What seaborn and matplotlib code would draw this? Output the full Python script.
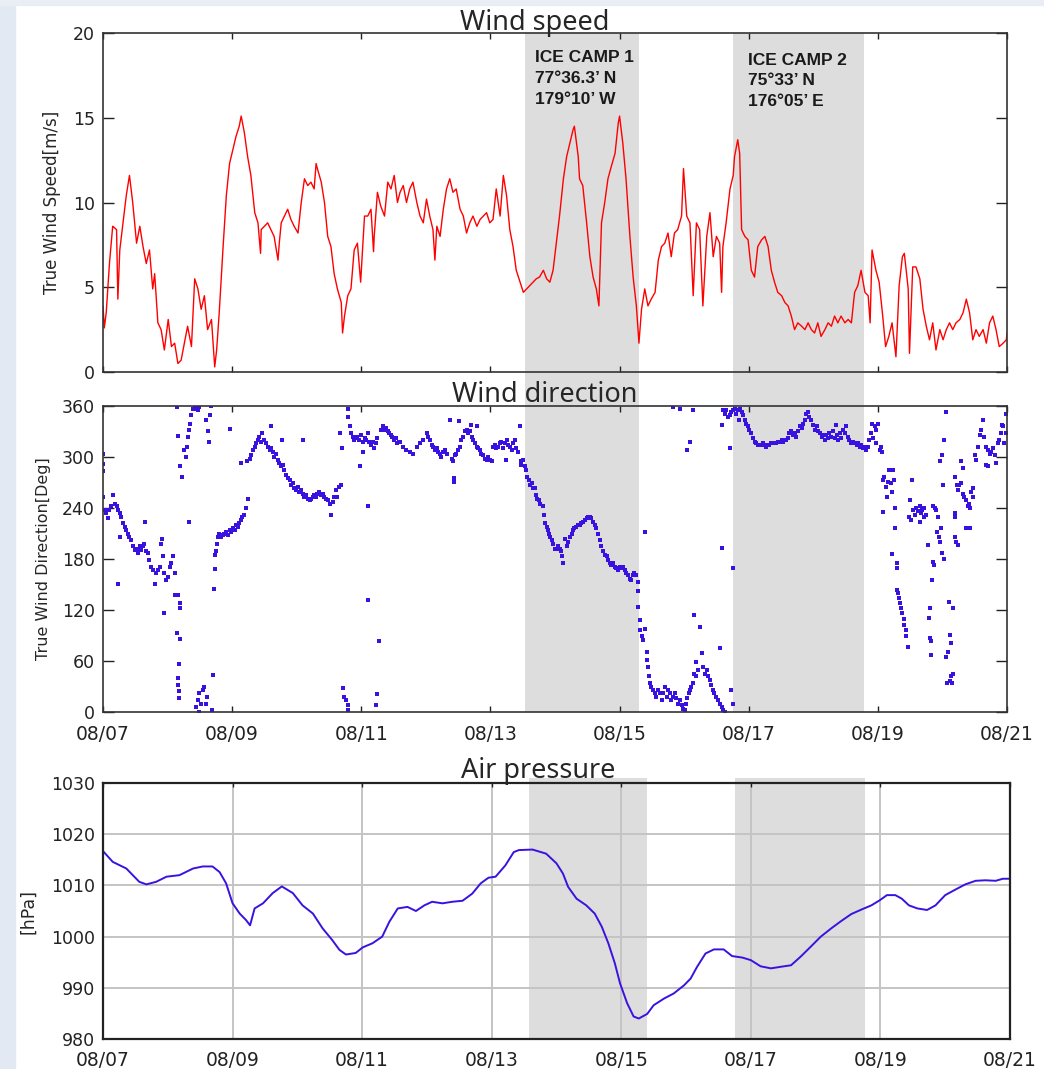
import pandas as pd
import matplotlib.pyplot as plt
import seaborn as sns
import matplotlib
from matplotlib.patches import Rectangle

sns.set_style("white")
matplotlib.rcParams['font.family'] = ['DejaVu Sans']

# days since 08/07 00:00
date_ticks = [0, 2, 4, 6, 8, 10, 12, 14]
date_labels = ['08/07', '08/09', '08/11', '08/13', '08/15', '08/17', '08/19', '08/21']
camp_days_top = [(6.54, 8.30), (9.76, 11.79)]
camp_days_pres = [(6.57, 8.40), (9.75, 11.76)]
camp_text = [["ICE CAMP 1", "77°36.3’ N", "179°10’ W"],
             ["ICE CAMP 2", "75°33’ N", "176°05’ E"]]

# (day, m/s)
wind_speed_obs = [
    (0.00, 3.9), (0.02, 2.6), (0.05, 3.5), (0.10, 6.4), (0.15, 8.6), (0.21, 8.4), (0.23, 4.3), (0.26, 7.2),
    (0.31, 8.8), (0.36, 10.4), (0.41, 11.6), (0.46, 10.0), (0.52, 7.6), (0.57, 8.6), (0.62, 7.4), (0.67, 6.4),
    (0.72, 7.2), (0.77, 4.9), (0.80, 5.8), (0.85, 2.9), (0.90, 2.5), (0.95, 1.3), (1.01, 3.1), (1.06, 1.5),
    (1.11, 1.7), (1.16, 0.5), (1.21, 0.7), (1.26, 1.7), (1.31, 2.7), (1.37, 1.5), (1.42, 5.5), (1.47, 4.9),
    (1.52, 3.7), (1.57, 4.5), (1.62, 2.5), (1.68, 3.1), (1.73, 0.3), (1.76, 1.3), (1.80, 3.5), (1.86, 7.4),
    (1.91, 10.4), (1.96, 12.3), (2.01, 13.1), (2.06, 13.9), (2.11, 14.5), (2.14, 15.1), (2.19, 14.1), (2.24, 12.7),
    (2.29, 11.6), (2.35, 9.4), (2.40, 8.8), (2.44, 7.0), (2.45, 8.4), (2.50, 8.6), (2.55, 8.8), (2.60, 8.4),
    (2.65, 8.0), (2.71, 6.6), (2.73, 7.6), (2.76, 8.8), (2.81, 9.2), (2.86, 9.6), (2.91, 9.0), (2.96, 8.6),
    (3.02, 8.2), (3.07, 10.0), (3.12, 11.4), (3.17, 11.0), (3.22, 11.2), (3.27, 10.8), (3.30, 12.3), (3.32, 12.0),
    (3.38, 11.2), (3.43, 10.0), (3.48, 8.0), (3.53, 7.4), (3.58, 5.8), (3.63, 4.9), (3.69, 4.1), (3.71, 2.3),
    (3.74, 3.3), (3.79, 4.5), (3.84, 4.9), (3.89, 7.2), (3.94, 7.6), (3.99, 5.3), (4.05, 9.2), (4.10, 9.2),
    (4.15, 9.6), (4.19, 7.1), (4.20, 8.0), (4.25, 10.6), (4.30, 9.8), (4.36, 9.2), (4.41, 11.2), (4.46, 10.8),
    (4.51, 11.6), (4.56, 10.0),
    (4.60, 10.6), (4.65, 11.0), (4.70, 10.0), (4.75, 10.8), (4.80, 11.2), (4.86, 10.0), (4.91, 9.2), (4.96, 8.8),
    (5.01, 10.2), (5.06, 9.2), (5.11, 8.4), (5.14, 6.6), (5.17, 8.6), (5.22, 8.0), (5.27, 9.6), (5.32, 10.8),
    (5.37, 11.4), (5.42, 10.6), (5.47, 10.8), (5.53, 9.6), (5.58, 9.2), (5.63, 8.2), (5.68, 8.8), (5.73, 9.2),
    (5.79, 8.6), (5.84, 9.0), (5.89, 9.2), (5.94, 9.4), (5.99, 8.8), (6.04, 9.0), (6.09, 10.8), (6.15, 9.2),
    (6.20, 11.6), (6.25, 10.4), (6.30, 8.4), (6.35, 7.4), (6.40, 6.0), (6.46, 5.3), (6.51, 4.7), (6.56, 4.9),
    (6.61, 5.1), (6.66, 5.3), (6.71, 5.5), (6.76, 5.6), (6.82, 6.0), (6.87, 5.5), (6.92, 5.3), (6.97, 6.0),
    (7.02, 7.6), (7.07, 9.2), (7.13, 11.4), (7.18, 12.7), (7.23, 13.5), (7.28, 14.3), (7.30, 14.5), (7.36, 12.7),
    (7.38, 11.4), (7.43, 11.0), (7.49, 8.8), (7.54, 6.8), (7.59, 5.6), (7.64, 4.9), (7.68, 3.9), (7.72, 8.8),
    (7.77, 10.0), (7.82, 11.4), (7.87, 12.1), (7.93, 12.9), (7.98, 14.7), (8.00, 15.1), (8.05, 13.5), (8.10, 11.4),
    (8.16, 8.0), (8.21, 5.6), (8.26, 3.9), (8.30, 1.7), (8.34, 3.7), (8.39, 4.9), (8.44, 3.9), (8.49, 4.3),
    (8.55, 4.7), (8.60, 6.6), (8.65, 7.4), (8.70, 7.6), (8.75, 8.2), (8.80, 6.8), (8.85, 8.2), (8.90, 8.4),
    (8.96, 9.2), (8.99, 12.0), (9.04, 9.2), (9.09, 8.8), (9.14, 4.5), (9.19, 8.8),
    (9.24, 8.4), (9.29, 3.9), (9.35, 8.0), (9.40, 9.4), (9.45, 6.8), (9.50, 8.0), (9.55, 7.6), (9.58, 4.7),
    (9.60, 7.4), (9.65, 8.8), (9.71, 10.8), (9.76, 11.6), (9.78, 12.7), (9.83, 13.7), (9.86, 12.9), (9.89, 8.4),
    (9.94, 8.0), (9.99, 7.8), (10.04, 6.0), (10.09, 5.6), (10.14, 7.4), (10.20, 7.8), (10.25, 8.0), (10.30, 7.4),
    (10.35, 6.0), (10.40, 5.3), (10.45, 4.7), (10.51, 4.5), (10.56, 4.1), (10.61, 3.9), (10.66, 3.3), (10.71, 2.5),
    (10.76, 2.9), (10.82, 2.7), (10.87, 2.5), (10.92, 2.9), (10.97, 2.5), (11.02, 2.3), (11.07, 2.9), (11.12, 2.1),
    (11.18, 2.5), (11.23, 2.9), (11.28, 2.7), (11.33, 3.3), (11.38, 2.9), (11.43, 3.3), (11.49, 2.9), (11.54, 3.1),
    (11.59, 2.9), (11.64, 4.7), (11.69, 5.1), (11.74, 6.0), (11.80, 4.7), (11.85, 4.5), (11.88, 2.9), (11.91, 7.2),
    (11.97, 6.0), (12.02, 5.3), (12.07, 3.5), (12.12, 1.5), (12.17, 2.1), (12.22, 2.9), (12.28, 0.9), (12.33, 5.1),
    (12.38, 6.8), (12.41, 7.0), (12.47, 4.9), (12.49, 1.1), (12.54, 6.2), (12.59, 6.2), (12.65, 5.5), (12.70, 3.7),
    (12.75, 2.7), (12.80, 1.9), (12.85, 2.9), (12.90, 1.3), (12.96, 2.5), (13.01, 1.9), (13.06, 2.5), (13.11, 2.9),
    (13.16, 2.5), (13.21, 2.9), (13.27, 3.1), (13.32, 3.5), (13.37, 4.3), (13.42, 3.5), (13.47, 1.9), (13.52, 2.5),
    (13.57, 2.1), (13.63, 2.5), (13.68, 1.7), (13.73, 2.9), (13.78, 3.3), (13.83, 2.5), (13.88, 1.5), (13.94, 1.7),
    (13.99, 1.9), (14.00, 2.3),
]

# (day, deg)
wind_dir_obs = [
    (0.00, 304), (0.00, 292), (0.00, 283), (0.00, 253), (0.03, 238), (0.05, 234), (0.08, 228), (0.10, 238),
    (0.13, 242), (0.15, 255), (0.18, 245), (0.21, 242), (0.23, 238), (0.26, 234), (0.28, 230), (0.31, 222),
    (0.34, 218), (0.36, 214), (0.39, 210), (0.41, 206), (0.44, 202), (0.46, 195), (0.49, 191), (0.52, 192),
    (0.54, 187), (0.57, 195), (0.59, 191), (0.62, 195), (0.64, 198), (0.67, 189), (0.70, 187), (0.72, 179),
    (0.75, 171), (0.77, 167), (0.80, 151), (0.82, 163), (0.85, 167), (0.88, 171), (0.90, 198), (0.92, 204),
    (0.93, 183), (0.95, 163), (0.98, 155), (1.01, 159), (1.03, 171), (1.06, 175), (1.08, 183), (1.11, 163),
    (1.12, 138), (1.16, 138), (1.19, 122), (1.20, 128), (0.95, 117), (1.14, 93), (1.19, 86), (1.18, 56),
    (1.16, 40), (1.16, 32), (1.18, 25), (1.17, 17), (0.24, 151), (0.65, 224), (0.27, 206),
    (1.14, 359), (1.16, 325), (1.20, 289), (1.23, 277), (1.26, 308), (1.28, 300), (1.30, 312), (1.31, 324),
    (1.33, 332), (1.35, 339), (1.37, 349), (1.39, 356), (1.42, 358), (1.44, 357), (1.47, 355), (1.49, 359),
    (1.60, 343), (1.62, 330), (1.64, 318), (1.65, 349), (1.68, 360), (1.33, 223),
    (1.44, 6), (1.47, 14), (1.49, 22), (1.52, 10), (1.55, 26), (1.57, 30), (1.60, 10), (1.61, 18), (1.70, 44),
    (1.69, 2), (1.48, 0),
    (1.72, 145), (1.73, 168), (1.74, 185), (1.75, 189), (1.76, 198), (1.78, 206), (1.80, 210), (1.83, 206),
    (1.86, 208), (1.88, 210), (1.91, 212), (1.93, 208), (1.96, 214), (1.98, 212), (2.01, 216), (2.04, 214),
    (2.06, 220), (2.09, 218), (2.11, 222), (2.14, 226), (2.16, 230), (2.19, 232), (2.22, 240), (2.24, 251),
    (2.14, 293), (1.97, 333), (2.23, 295), (2.27, 298), (2.29, 302), (2.32, 308), (2.35, 312), (2.37, 316),
    (2.40, 320), (2.42, 324), (2.45, 318), (2.47, 328), (2.50, 320), (2.53, 316), (2.55, 312), (2.58, 308),
    (2.60, 337), (2.60, 310), (2.63, 306), (2.65, 300), (2.68, 304), (2.71, 296), (2.73, 293), (2.76, 289),
    (2.77, 320), (2.78, 291), (2.81, 285), (2.84, 279), (2.86, 275), (2.89, 273), (2.91, 267), (2.94, 269),
    (2.96, 263), (2.99, 261), (3.02, 265), (3.04, 259), (3.07, 261), (3.10, 320), (3.09, 257), (3.12, 253),
    (3.14, 255), (3.17, 251), (3.20, 249), (3.22, 251), (3.25, 253), (3.27, 255), (3.30, 253), (3.32, 257),
    (3.35, 259), (3.38, 255), (3.40, 257), (3.43, 253), (3.45, 251), (3.48, 249), (3.51, 245), (3.53, 232),
    (3.56, 247), (3.58, 253), (3.61, 261), (3.63, 253), (3.66, 265), (3.68, 267), (3.67, 328), (3.70, 310),
    (3.72, 28), (3.74, 18), (3.76, 14), (3.79, 8), (3.80, 2), (3.79, 357), (3.80, 347), (3.82, 336),
    (3.84, 328), (3.87, 324), (3.89, 320), (3.92, 322), (3.94, 324), (3.97, 320), (3.98, 289), (3.99, 326),
    (4.02, 318), (4.03, 306), (4.05, 322), (4.07, 320), (4.10, 328), (4.10, 242), (4.11, 132), (4.12, 318),
    (4.15, 314), (4.18, 318), (4.20, 310), (4.23, 316), (4.25, 322), (4.28, 83), (4.24, 21), (4.23, 8),
    (4.30, 332), (4.33, 336), (4.36, 332), (4.38, 334), (4.41, 330), (4.43, 328), (4.46, 326), (4.48, 324),
    (4.51, 320), (4.54, 322), (4.56, 316), (4.59, 318),
    (4.60, 318), (4.65, 312), (4.70, 308), (4.75, 306), (4.80, 304), (4.86, 312), (4.91, 316), (4.96, 320),
    (5.01, 328), (5.04, 324), (5.06, 320), (5.09, 314), (5.11, 312), (5.14, 308), (5.17, 310), (5.19, 306),
    (5.22, 304), (5.24, 300), (5.27, 306), (5.29, 308), (5.32, 304), (5.37, 344), (5.40, 298), (5.42, 295),
    (5.43, 275), (5.44, 270), (5.45, 302), (5.47, 304), (5.50, 308), (5.53, 312), (5.52, 342), (5.55, 320),
    (5.58, 324), (5.60, 330), (5.63, 332), (5.65, 328), (5.68, 330), (5.70, 338), (5.71, 324), (5.73, 320),
    (5.76, 316), (5.79, 312), (5.79, 336), (5.81, 310), (5.84, 308), (5.86, 304), (5.89, 302), (5.91, 298),
    (5.94, 297), (5.96, 300), (5.99, 297), (6.02, 295), (6.04, 312), (6.07, 314), (6.09, 310), (6.12, 312),
    (6.15, 316), (6.17, 318), (6.20, 310), (6.22, 316), (6.24, 297), (6.25, 320), (6.27, 314), (6.30, 312),
    (6.33, 308), (6.35, 316), (6.38, 320), (6.40, 310), (6.43, 306), (6.46, 336), (6.47, 291), (6.48, 295),
    (6.51, 297), (6.53, 289), (6.55, 285), (6.57, 277), (6.59, 273), (6.61, 267), (6.64, 269), (6.66, 263),
    (6.69, 263), (6.70, 255), (6.72, 251), (6.75, 249), (6.77, 245), (6.81, 242), (6.83, 232), (6.85, 222),
    (6.87, 218), (6.89, 214), (6.91, 210), (6.93, 206), (6.95, 202), (6.97, 198), (7.00, 192), (7.02, 192),
    (7.05, 195), (7.07, 192), (7.10, 189), (7.11, 183), (7.13, 175), (7.15, 204), (7.18, 195), (7.20, 200),
    (7.23, 206), (7.26, 210), (7.28, 214), (7.30, 216), (7.33, 218), (7.36, 220), (7.38, 220), (7.41, 222),
    (7.43, 224), (7.46, 226), (7.49, 228), (7.51, 230), (7.54, 230), (7.56, 228), (7.59, 224), (7.62, 220),
    (7.64, 216), (7.67, 210), (7.69, 202), (7.72, 195), (7.75, 189), (7.77, 185), (7.80, 183), (7.82, 179),
    (7.85, 175), (7.87, 173), (7.90, 175), (7.93, 171), (7.95, 169), (7.98, 167), (8.00, 171), (8.03, 169),
    (8.05, 171), (8.08, 167), (8.10, 163), (8.13, 161), (8.16, 157), (8.18, 155), (8.21, 161), (8.23, 163),
    (8.26, 161), (8.28, 153), (8.29, 142), (8.29, 124), (8.31, 108), (8.32, 96), (8.34, 89), (8.36, 85),
    (8.39, 212), (8.40, 98), (8.42, 71), (8.43, 61), (8.44, 53), (8.46, 42), (8.47, 34), (8.49, 30),
    (8.52, 26), (8.55, 22), (8.57, 18), (8.60, 26), (8.62, 22), (8.65, 14), (8.67, 22), (8.70, 30),
    (8.73, 18), (8.75, 26), (8.78, 22), (8.80, 14), (8.83, 18), (8.86, 22), (8.88, 16), (8.91, 10),
    (8.93, 14), (8.96, 8), (8.98, 4), (9.01, 2), (9.03, 10), (9.05, 16), (9.07, 22), (9.09, 26),
    (9.11, 30), (9.14, 34), (9.16, 45), (9.18, 59), (9.19, 42), (9.21, 49), (9.15, 114), (9.24, 100),
    (9.04, 308), (9.09, 318), (8.83, 359), (8.93, 357), (9.14, 355),
    (9.27, 69), (9.29, 53), (9.32, 45), (9.35, 49), (9.37, 42), (9.40, 38), (9.42, 32), (9.45, 26),
    (9.47, 22), (9.50, 18), (9.53, 14), (9.55, 10), (9.58, 6), (9.60, 2), (9.63, 0), (9.56, 75),
    (9.73, 26), (9.76, 10), (9.58, 193), (9.75, 169), (9.71, 310), (9.59, 338),
    (9.60, 355), (9.63, 351), (9.65, 355), (9.68, 347), (9.71, 349), (9.73, 353), (9.76, 355), (9.78, 357),
    (9.81, 351), (9.83, 355), (9.85, 343), (9.86, 357), (9.89, 353), (9.91, 349), (9.94, 343), (9.96, 339),
    (9.99, 336), (10.01, 332), (10.04, 328), (10.07, 322), (10.09, 318), (10.12, 316), (10.14, 314), (10.17, 314),
    (10.20, 314), (10.22, 316), (10.25, 314), (10.27, 312), (10.30, 314), (10.32, 314), (10.35, 316), (10.38, 316),
    (10.40, 316), (10.43, 317), (10.45, 318), (10.48, 318), (10.51, 320), (10.53, 318), (10.56, 320), (10.58, 320),
    (10.61, 322), (10.63, 328), (10.66, 330), (10.69, 326), (10.71, 328), (10.74, 324), (10.76, 330), (10.79, 336),
    (10.82, 334), (10.84, 339), (10.87, 343), (10.89, 351), (10.92, 353), (10.94, 347), (10.97, 343), (11.00, 338),
    (11.02, 332), (11.05, 336), (11.07, 330), (11.10, 328), (11.13, 324), (11.15, 326), (11.18, 320), (11.20, 326),
    (11.23, 322), (11.25, 328), (11.28, 324), (11.31, 330), (11.33, 322), (11.35, 338), (11.36, 326), (11.38, 320),
    (11.41, 328), (11.43, 322), (11.46, 332), (11.49, 328), (11.51, 336), (11.54, 324), (11.56, 320), (11.59, 316),
    (11.61, 318), (11.64, 316), (11.67, 314), (11.69, 316), (11.72, 312), (11.74, 314), (11.77, 310), (11.80, 312),
    (11.82, 308), (11.85, 312), (11.87, 320), (11.90, 328), (11.91, 339), (11.92, 322), (11.95, 336), (11.97, 316),
    (11.97, 332), (12.00, 339), (12.03, 308), (12.05, 312), (12.07, 306),
    (12.08, 273), (12.10, 277), (12.13, 265), (12.14, 253), (12.16, 271), (12.18, 285), (12.21, 269), (12.22, 259),
    (12.23, 285), (12.25, 273), (12.08, 235), (12.26, 240), (12.27, 216), (12.22, 186), (12.29, 175), (12.30, 169),
    (12.30, 144), (12.31, 140), (12.33, 134), (12.35, 128), (12.36, 122), (12.38, 116), (12.40, 110), (12.41, 102),
    (12.43, 96), (12.44, 89), (12.46, 77),
    (12.50, 249), (12.53, 273), (12.48, 230), (12.52, 226), (12.54, 238), (12.57, 232), (12.59, 240), (12.62, 236),
    (12.65, 242), (12.67, 234), (12.66, 224), (12.69, 238), (12.71, 230), (12.72, 240), (12.75, 232), (12.77, 196),
    (12.85, 242), (12.88, 240), (12.90, 238), (12.93, 230), (12.92, 212), (12.94, 206), (12.96, 200), (12.98, 216),
    (13.00, 187), (13.03, 180), (12.85, 177), (12.87, 173), (12.84, 155), (12.80, 122), (12.79, 111), (12.80, 87),
    (12.83, 83), (12.82, 67), (13.01, 267), (13.03, 320), (13.05, 353), (12.96, 295), (13.00, 302), (13.10, 130),
    (13.16, 122), (13.12, 91), (13.14, 81), (13.08, 71), (13.06, 65), (13.07, 34), (13.11, 36), (13.14, 42),
    (13.16, 45), (13.15, 34),
    (13.19, 234), (13.20, 230), (13.19, 206), (13.21, 200), (13.24, 196), (13.20, 277), (13.22, 267), (13.24, 261),
    (13.26, 267), (13.29, 269), (13.32, 287), (13.32, 257), (13.34, 253), (13.37, 249), (13.39, 242), (13.41, 245),
    (13.42, 240), (13.36, 216), (13.43, 216), (13.45, 259), (13.47, 263), (13.48, 253), (13.29, 295),
    (13.50, 302), (13.52, 297), (13.55, 312), (13.58, 326), (13.60, 332), (13.63, 343), (13.65, 324), (13.68, 312),
    (13.70, 308), (13.73, 304), (13.75, 306), (13.78, 310), (13.81, 302), (13.83, 293), (13.86, 316), (13.88, 320),
    (13.91, 328), (13.94, 336), (13.96, 316), (13.98, 351), (13.99, 328), (13.93, 338), (13.67, 291), (13.70, 289),
]

# (day, hPa)
pressure_obs = [
    (0.00, 1016.7), (0.15, 1014.6), (0.36, 1013.3), (0.56, 1010.7), (0.67, 1010.2), (0.82, 1010.7), (0.98, 1011.7),
    (1.18, 1012.0), (1.39, 1013.3), (1.54, 1013.7), (1.69, 1013.7), (1.80, 1012.6), (1.90, 1010.4), (2.00, 1006.5),
    (2.11, 1004.5), (2.21, 1003.2), (2.27, 1002.2), (2.34, 1005.5), (2.47, 1006.5), (2.62, 1008.5), (2.76, 1009.8),
    (2.93, 1008.5), (3.08, 1006.1), (3.24, 1004.5), (3.39, 1001.6), (3.54, 999.3), (3.65, 997.4), (3.75, 996.5),
    (3.90, 996.8), (4.01, 997.9), (4.16, 998.7), (4.31, 1000.0), (4.42, 1002.9), (4.55, 1005.5), (4.70, 1005.8),
    (4.83, 1005.0), (4.96, 1006.1), (5.08, 1006.8), (5.24, 1006.5), (5.39, 1006.8), (5.55, 1007.0), (5.70, 1008.4),
    (5.83, 1010.4), (5.95, 1011.5), (6.06, 1011.7), (6.21, 1013.9), (6.34, 1016.5), (6.42, 1016.9), (6.63, 1017.0),
    (6.84, 1016.2), (7.00, 1014.3), (7.10, 1012.3), (7.18, 1009.7), (7.31, 1007.4), (7.46, 1006.1), (7.59, 1004.5),
    (7.70, 1001.9), (7.80, 998.7), (7.90, 994.8), (7.98, 990.9), (8.09, 987.0), (8.19, 984.4), (8.27, 984.0),
    (8.40, 984.9), (8.50, 986.6), (8.66, 987.9), (8.81, 988.9), (8.97, 990.5), (9.07, 991.8), (9.17, 994.1),
    (9.30, 996.7), (9.43, 997.5), (9.58, 997.5), (9.71, 996.2), (9.87, 995.9), (10.00, 995.4), (10.15, 994.2),
    (10.31, 993.8), (10.46, 994.1), (10.62, 994.4), (10.77, 996.1), (10.93, 998.1), (11.08, 1000.0), (11.24, 1001.6),
    (11.39, 1003.0), (11.55, 1004.4), (11.71, 1005.3), (11.86, 1006.1), (11.99, 1007.1), (12.10, 1008.1),
    (12.23, 1008.1), (12.33, 1007.4), (12.44, 1006.1), (12.57, 1005.5), (12.72, 1005.2), (12.85, 1006.1),
    (13.00, 1008.1), (13.16, 1009.2), (13.31, 1010.2), (13.47, 1010.9), (13.62, 1011.0), (13.78, 1010.9),
    (13.89, 1011.3), (14.00, 1011.3),
]

speed = pd.DataFrame(wind_speed_obs, columns=['day', 'speed'])
direction = pd.DataFrame(wind_dir_obs, columns=['day', 'deg'])
pressure = pd.DataFrame(pressure_obs, columns=['day', 'hpa'])

W, H = 1044, 1069
fig = plt.figure(figsize=(W / 100, H / 100), dpi=100)


def box(left, top, right, bottom):
    return [left / W, 1 - bottom / H, (right - left) / W, (bottom - top) / H]


# slide background bits
fig.patches.append(Rectangle((0, 0), 15 / W, 1, transform=fig.transFigure, color='#e3e9f3', zorder=-5))
fig.patches.append(Rectangle((0, 1 - 5 / H), 1, 5 / H, transform=fig.transFigure, color='#e9edf4', zorder=-5))

shade = '#dddddd'
blue = '#3a12e0'

ax1 = fig.add_axes(box(103, 33, 1007, 372))
ax2 = fig.add_axes(box(103, 406, 1007, 712))
ax3 = fig.add_axes(box(103, 783, 1010, 1039))
for ax in (ax1, ax2, ax3):
    ax.set_facecolor('none')

# --- wind speed
for a, b in camp_days_top:
    ax1.axvspan(a, b, ymin=-0.105, ymax=1, color=shade, lw=0, clip_on=False, zorder=0)
sns.lineplot(data=speed, x='day', y='speed', ax=ax1, color='#ff0000', lw=1.0, estimator=None)
ax1.set_xlim(0, 14)
ax1.set_ylim(0, 20)
ax1.set_yticks([0, 5, 10, 15, 20])
ax1.set_xticks(date_ticks)
ax1.set_xticklabels([])
ax1.set_xlabel('')
ax1.set_ylabel('True Wind Speed[m/s]', fontsize=12)
ax1.yaxis.set_label_coords(-0.046, 0.5)

# --- wind direction
for a, b in camp_days_top:
    ax2.axvspan(a, b, color=shade, lw=0, zorder=0)
sns.scatterplot(data=direction, x='day', y='deg', ax=ax2, color=blue, s=10,
                marker='s', linewidth=0, clip_on=True)
ax2.set_xlim(0, 14)
ax2.set_ylim(0, 360)
ax2.set_yticks([0, 60, 120, 180, 240, 300, 360])
ax2.set_xticks(date_ticks)
ax2.set_xticklabels(date_labels)
ax2.set_xlabel('')
ax2.set_ylabel('True Wind Direction[Deg]', fontsize=11.5)
ax2.yaxis.set_label_coords(-0.058, 0.5)

for ax in (ax1, ax2):
    ax.tick_params(axis='y', direction='in', length=8, width=1, left=True, right=True,
                   labelsize=12.5, pad=6, colors='#222222')
    ax.tick_params(axis='x', direction='in', length=4, width=1, top=True, bottom=True,
                   labelsize=13.5, pad=9, colors='#222222')
    for sp in ax.spines.values():
        sp.set_color('#333333')
        sp.set_linewidth(1.2)

# --- air pressure
for a, b in camp_days_pres:
    ax3.axvspan(a, b, ymin=0, ymax=1.02, color=shade, lw=0, clip_on=False, zorder=0)
sns.lineplot(data=pressure, x='day', y='hpa', ax=ax3, color=blue, lw=1.4, estimator=None)
ax3.set_xlim(0, 14)
ax3.set_ylim(980, 1030)
ax3.set_yticks([980, 990, 1000, 1010, 1020, 1030])
ax3.set_xticks(date_ticks)
ax3.set_xticklabels(date_labels)
ax3.set_xlabel('')
ax3.set_ylabel('[hPa]', fontsize=12.5)
ax3.yaxis.set_label_coords(-0.073, 0.5)
ax3.grid(True, color='#c4c4c4', lw=1.4)
ax3.set_axisbelow('line')
ax3.tick_params(axis='both', direction='in', length=3, width=1, top=True, right=False,
                colors='#222222')
ax3.tick_params(axis='y', labelsize=12.5, pad=6)
ax3.tick_params(axis='x', labelsize=13.5, pad=9)
for sp in ax3.spines.values():
    sp.set_color('#222222')
    sp.set_linewidth(1.6)

# --- panel titles and camp labels
title_font = dict(family=['Noto Sans', 'DejaVu Sans'], fontsize=19.5, ha='center', va='baseline')
fig.text(535 / W, 1 - 30 / H, 'Wind speed', **title_font)
fig.text(545 / W, 1 - 402 / H, 'Wind direction', **title_font)
fig.text(538 / W, 1 - 778 / H, 'Air pressure', **title_font)

camp_pos = [(535, [62, 83, 104]), (748, [65, 85, 106])]
for (xp, ys), lines in zip(camp_pos, camp_text):
    for yp, line in zip(ys, lines):
        fig.text(xp / W, 1 - yp / H, line, family=['Liberation Sans', 'DejaVu Sans'],
                 fontsize=12.5, fontweight='bold', color='#1a1a1a', va='baseline')

fig.savefig('out.png', dpi=100)
